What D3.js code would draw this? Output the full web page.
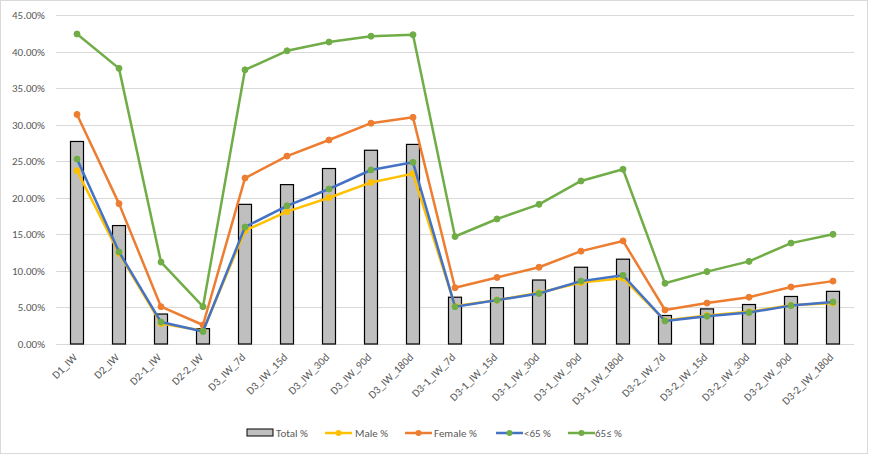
<!DOCTYPE html>
<html><head><meta charset="utf-8">
<script src="https://cdn.jsdelivr.net/npm/d3@7"></script>
<style>body{margin:0;background:#fff}svg{display:block}</style>
</head><body><svg id="c" width="870" height="455"></svg>
<script>
const categories = ["D1_IW","D2_IW","D2-1_IW","D2-2_IW","D3_IW_7d","D3_IW_15d","D3_IW_30d","D3_IW_90d","D3_IW_180d","D3-1_IW_7d","D3-1_IW_15d","D3-1_IW_30d","D3-1_IW_90d","D3-1_IW_180d","D3-2_IW_7d","D3-2_IW_15d","D3-2_IW_30d","D3-2_IW_90d","D3-2_IW_180d"];
const totalPct  = [27.7,16.2,4.1,2.1,19.1,21.8,24.0,26.5,27.3,6.4,7.7,8.75,10.5,11.6,3.9,4.8,5.4,6.5,7.2];
const malePct   = [23.7,12.4,2.8,1.8,15.5,18.1,20.0,22.1,23.3,5.2,6.0,7.0,8.4,9.0,3.2,3.9,4.4,5.3,5.6];
const femalePct = [31.4,19.2,5.1,2.6,22.7,25.7,27.9,30.2,31.0,7.7,9.1,10.5,12.7,14.1,4.65,5.6,6.4,7.8,8.6];
const under65Pct= [25.3,12.6,3.0,1.7,16.0,18.9,21.2,23.8,24.85,5.1,6.0,6.9,8.6,9.4,3.15,3.8,4.3,5.25,5.75];
const over65Pct = [42.4,37.7,11.2,5.1,37.5,40.1,41.3,42.1,42.3,14.7,17.1,19.1,22.3,23.9,8.3,9.9,11.3,13.8,15.0];
const yTicks = [0,5,10,15,20,25,30,35,40,45];

const lineSeries = [
  {name:"Male %", values:malePct, color:"#FFC000", marker:"#FFC000"},
  {name:"Female %", values:femalePct, color:"#ED7D31", marker:"#ED7D31"},
  {name:"<65 %", values:under65Pct, color:"#4472C4", marker:"#70AD47"},
  {name:"65≤ %", values:over65Pct, color:"#70AD47", marker:"#70AD47"}
];

const svg = d3.select("#c");
const font = "Calibri, Carlito, 'Open Sans', sans-serif";
svg.append("rect").attr("x",0.5).attr("y",0.5).attr("width",867).attr("height",453)
  .attr("fill","#fff").attr("stroke","#d9d9d9");

const L=56, R=854, T=15, B=344;
const x = d3.scaleBand().domain(categories).range([L,R]);
const y = d3.scaleLinear().domain([0,45]).range([B,T]);

// gridlines
svg.append("g").selectAll("line").data(yTicks).join("line")
  .attr("x1",L).attr("x2",R).attr("y1",d=>Math.round(y(d))+0.5).attr("y2",d=>Math.round(y(d))+0.5)
  .attr("stroke","#d9d9d9").attr("stroke-width",1);

// y labels
svg.append("g").selectAll("text").data(yTicks).join("text")
  .attr("x",45).attr("y",d=>y(d)+4).attr("text-anchor","end")
  .attr("font-family",font).attr("font-size",11).attr("fill","#595959")
  .text(d=>d.toFixed(2)+"%");

// x labels
svg.append("g").selectAll("text").data(categories).join("text")
  .attr("text-anchor","end").attr("font-family",font).attr("font-size",11).attr("fill","#595959")
  .attr("transform",d=>`translate(${x(d)+x.bandwidth()/2+1},${B+14}) rotate(-45)`)
  .text(d=>d);

// bars
const bw = 13;
svg.append("g").selectAll("rect").data(totalPct).join("rect")
  .attr("x",(d,i)=>x(categories[i])+x.bandwidth()/2-bw/2)
  .attr("y",d=>y(d)).attr("width",bw).attr("height",d=>B-y(d))
  .attr("fill","#bfbfbf").attr("stroke","#000").attr("stroke-width",1.2);

const line = d3.line().x((d,i)=>x(categories[i])+x.bandwidth()/2).y(d=>y(d));
lineSeries.forEach(s=>{
  const g = svg.append("g");
  g.append("path").attr("d",line(s.values)).attr("fill","none")
    .attr("stroke",s.color).attr("stroke-width",2.5).attr("stroke-linejoin","round");
  g.selectAll("circle").data(s.values).join("circle")
    .attr("cx",(d,i)=>x(categories[i])+x.bandwidth()/2).attr("cy",d=>y(d)).attr("r",3)
    .attr("fill",s.marker).attr("stroke",s.marker);
});

// legend
const ly = 433;
const lg = svg.append("g").attr("font-family",font).attr("font-size",11).attr("fill","#595959");
lg.append("rect").attr("x",247).attr("y",ly-4).attr("width",26).attr("height",7)
  .attr("fill","#bfbfbf").attr("stroke","#000").attr("stroke-width",1);
lg.append("text").attr("x",276).attr("y",ly+4).text("Total %");
const legPos = [[325,355],[405,434],[496,524],[568,595]];
lineSeries.forEach((s,i)=>{
  const [lx,tx]=legPos[i];
  lg.append("line").attr("x1",lx).attr("x2",lx+27).attr("y1",ly).attr("y2",ly)
    .attr("stroke",s.color).attr("stroke-width",2.5);
  lg.append("circle").attr("cx",lx+13.5).attr("cy",ly).attr("r",3).attr("fill",s.marker);
  lg.append("text").attr("x",tx).attr("y",ly+4).text(s.name);
});
</script></body></html>
